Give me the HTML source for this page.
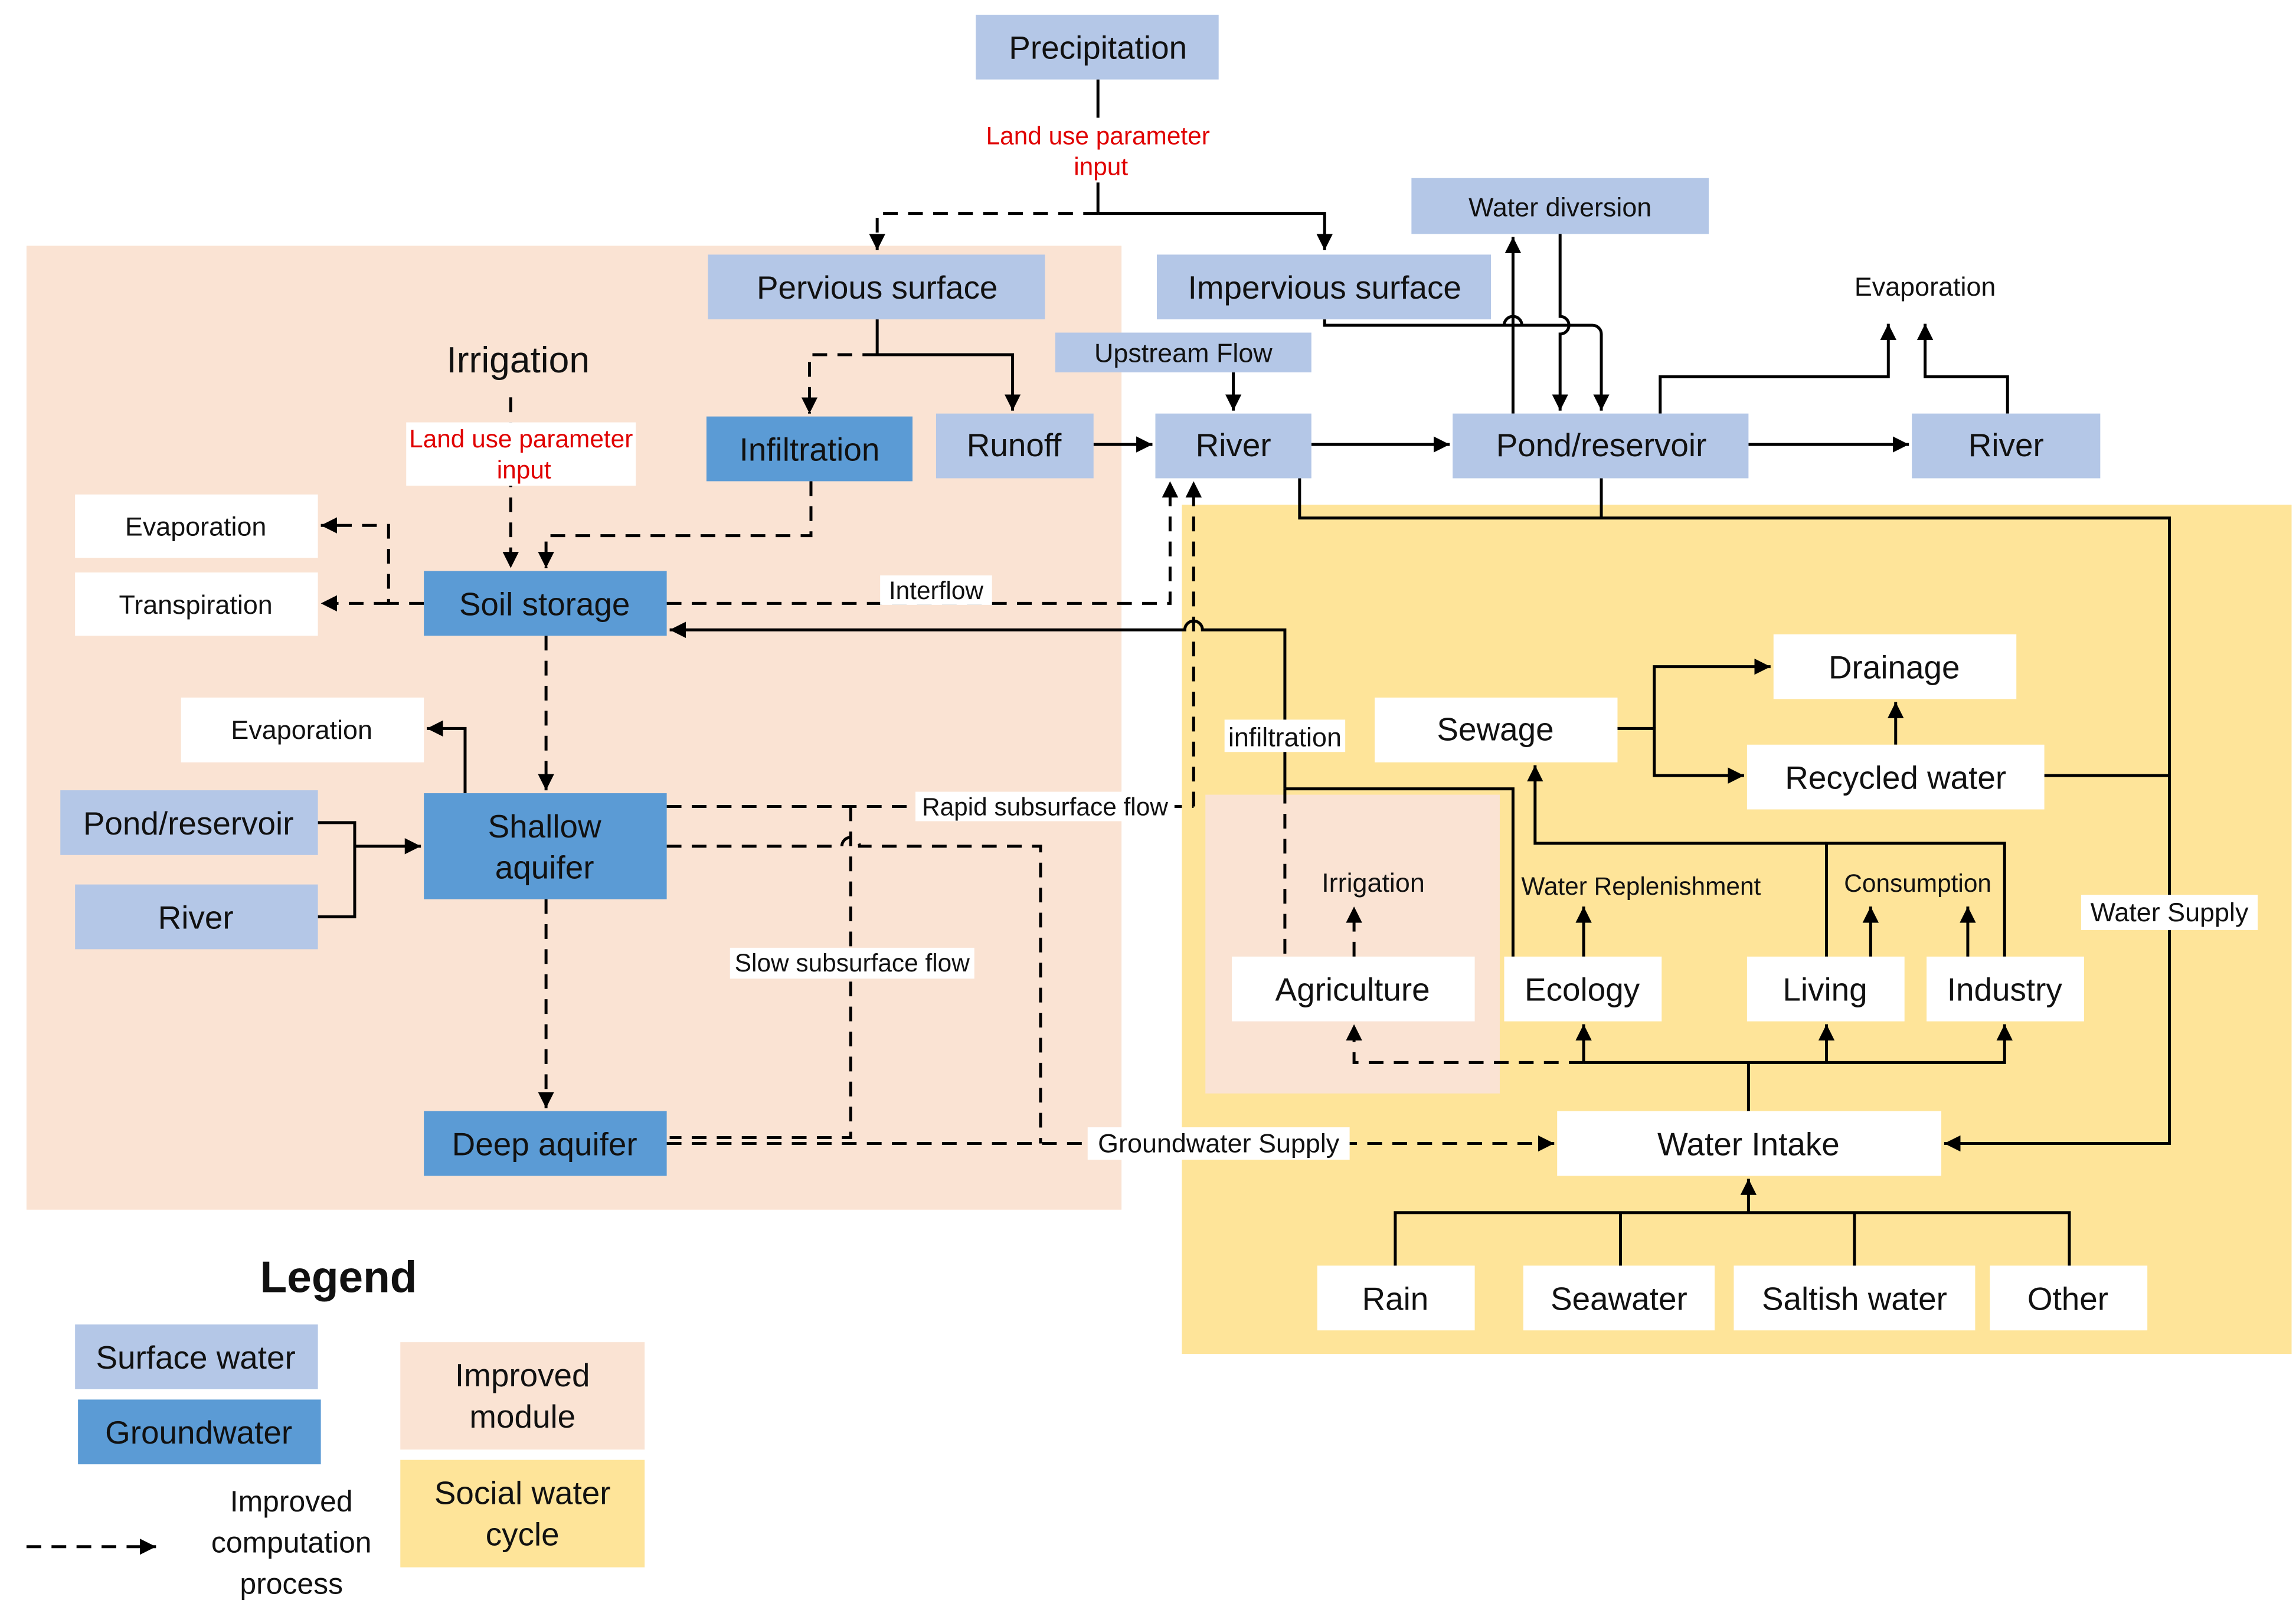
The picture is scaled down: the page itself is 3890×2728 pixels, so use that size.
<!DOCTYPE html>
<html><head><meta charset="utf-8"><style>
html,body{margin:0;padding:0;background:#fff}
svg{display:block}
text{font-family:"Liberation Sans",Arial,sans-serif}
</style></head><body>
<svg width="3890" height="2728" viewBox="0 0 1560 1094" xmlns="http://www.w3.org/2000/svg">
<defs>
<marker id="a" viewBox="0 0 10 10" refX="10" refY="5" markerWidth="5.5" markerHeight="5.5" orient="auto"><path d="M0,0L10,5L0,10z" fill="#000"/></marker>
</defs>
<rect width="1560" height="1094" fill="#fff"/>
<rect x="18" y="167" width="744" height="655" fill="#fae3d3"/>
<rect x="803" y="343" width="754" height="577" fill="#fee499"/>
<rect x="819" y="540" width="200" height="203" fill="#fae3d3"/>

<g stroke="#000" stroke-width="2" fill="none">
<path d="M746,54V80"/>
<path d="M746,124V145"/>
<path d="M746,145H596V170" stroke-dasharray="10,7" marker-end="url(#a)"/>
<path d="M746,145H900V170" marker-end="url(#a)"/>
<path d="M596,217V241H688V279" marker-end="url(#a)"/>
<path d="M596,241H550V281" stroke-dasharray="10,7" marker-end="url(#a)"/>
<path d="M900,217V221H1082a6,6 0 0 1 6,6V279" marker-end="url(#a)"/>
<path d="M1028,281V161" marker-end="url(#a)"/>
<path d="M1060,159V215a6,6 0 0 1 0,12V279" marker-end="url(#a)"/>
<path d="M1022,221a6,6 0 0 1 12,0"/>
<path d="M838,253V279" marker-end="url(#a)"/>
<path d="M743,302H783" marker-end="url(#a)"/>
<path d="M891,302H985" marker-end="url(#a)"/>
<path d="M1188,302H1297" marker-end="url(#a)"/>
<path d="M1128,281V256H1283V220" marker-end="url(#a)"/>
<path d="M1364,281V256H1308V220" marker-end="url(#a)"/>
<path d="M883,325V352H1474V777H1321" marker-end="url(#a)"/>
<path d="M1088,325V352"/>
<path d="M1389,527H1474"/>
<path d="M347,270V386" stroke-dasharray="10,7" marker-end="url(#a)"/>
<path d="M551,327V364H371V386" stroke-dasharray="10,7" marker-end="url(#a)"/>
<path d="M288,410H264V357H218" stroke-dasharray="10,7" marker-end="url(#a)"/>
<path d="M264,410H218" stroke-dasharray="10,7" marker-end="url(#a)"/>
<path d="M453,410H795V327" stroke-dasharray="10,7" marker-end="url(#a)"/>
<path d="M873,536V428H817a6,6 0 0 0 -12,0H455" marker-end="url(#a)"/>
<path d="M873,536H1028V650"/>
<path d="M873,536V650" stroke-dasharray="10,7"/>
<path d="M811,548V327" stroke-dasharray="10,7" marker-end="url(#a)"/>
<path d="M453,548H811" stroke-dasharray="10,7"/>
<path d="M371,432V537" stroke-dasharray="10,7" marker-end="url(#a)"/>
<path d="M371,611V753" stroke-dasharray="10,7" marker-end="url(#a)"/>
<path d="M316,539V495H290" marker-end="url(#a)"/>
<path d="M216,559H241V623H216"/>
<path d="M241,575H286" marker-end="url(#a)"/>
<path d="M453,575H572a6,6 0 0 1 12,0H707V777" stroke-dasharray="10,7"/>
<path d="M578,548V773H455" stroke-dasharray="10,7"/>
<path d="M453,777H1056" stroke-dasharray="10,7" marker-end="url(#a)"/>
<path d="M1099,495H1124V527H1185" marker-end="url(#a)"/>
<path d="M1124,495V453H1203" marker-end="url(#a)"/>
<path d="M1288,506V477" marker-end="url(#a)"/>
<path d="M1241,650V573H1362V650"/>
<path d="M1241,573H1043V520" marker-end="url(#a)"/>
<path d="M1271,650V616" marker-end="url(#a)"/>
<path d="M1337,650V616" marker-end="url(#a)"/>
<path d="M1076,650V616" marker-end="url(#a)"/>
<path d="M920,650V616" stroke-dasharray="10,7" marker-end="url(#a)"/>
<path d="M1188,755V722"/>
<path d="M1076,722H920V696" stroke-dasharray="10,7" marker-end="url(#a)"/>
<path d="M1076,722H1362V696" marker-end="url(#a)"/>
<path d="M1076,722V696" marker-end="url(#a)"/>
<path d="M1241,722V696" marker-end="url(#a)"/>
<path d="M948,860V824H1406V860M1101,824V860M1260,824V860"/>
<path d="M1188,824V801" marker-end="url(#a)"/>
<path d="M18,1051H106" stroke-dasharray="10,7" marker-end="url(#a)"/>
</g>

<g fill="#b4c7e7">
<rect x="663" y="10" width="165" height="44"/>
<rect x="481" y="173" width="229" height="44"/>
<rect x="786" y="173" width="227" height="44"/>
<rect x="959" y="121" width="202" height="38"/>
<rect x="717" y="226" width="174" height="27"/>
<rect x="636" y="281" width="107" height="44"/>
<rect x="785" y="281" width="106" height="44"/>
<rect x="987" y="281" width="201" height="44"/>
<rect x="1299" y="281" width="128" height="44"/>
<rect x="41" y="537" width="175" height="44"/>
<rect x="51" y="601" width="165" height="44"/>
<rect x="51" y="900" width="165" height="44"/>
</g>
<g fill="#5b9bd5">
<rect x="480" y="283" width="140" height="44"/>
<rect x="288" y="388" width="165" height="44"/>
<rect x="288" y="539" width="165" height="72"/>
<rect x="288" y="755" width="165" height="44"/>
<rect x="53" y="951" width="165" height="44"/>
</g>
<g fill="#fff">
<rect x="276" y="287" width="156" height="43"/>
<rect x="51" y="336" width="165" height="43"/>
<rect x="51" y="389" width="165" height="43"/>
<rect x="123" y="474" width="165" height="44"/>
<rect x="1205" y="431" width="165" height="44"/>
<rect x="934" y="474" width="165" height="44"/>
<rect x="1187" y="506" width="202" height="44"/>
<rect x="837" y="650" width="165" height="44"/>
<rect x="1022" y="650" width="107" height="44"/>
<rect x="1187" y="650" width="107" height="44"/>
<rect x="1309" y="650" width="107" height="44"/>
<rect x="1058" y="755" width="261" height="44"/>
<rect x="895" y="860" width="107" height="44"/>
<rect x="1035" y="860" width="130" height="44"/>
<rect x="1178" y="860" width="164" height="44"/>
<rect x="1352" y="860" width="107" height="44"/>
<rect x="598" y="391" width="76" height="20"/>
<rect x="832" y="489" width="82" height="22"/>
<rect x="622" y="538" width="176" height="20"/>
<rect x="496" y="644" width="166" height="21"/>
<rect x="739" y="766" width="178" height="22"/>
<rect x="1414" y="608" width="120" height="24"/>
</g>
<rect x="272" y="912" width="166" height="73" fill="#fae3d3"/>
<rect x="272" y="992" width="166" height="73" fill="#fee499"/>

<g text-anchor="middle" font-size="22" style="fill:#111">
<text x="746" y="40">Precipitation</text>
<text x="596" y="203">Pervious surface</text>
<text x="900" y="203">Impervious surface</text>
<text x="1060" y="147" font-size="18">Water diversion</text>
<text x="804" y="246" font-size="18">Upstream Flow</text>
<text x="1308" y="201" font-size="18">Evaporation</text>
<text x="352" y="253" font-size="25">Irrigation</text>
<text x="550" y="313">Infiltration</text>
<text x="689" y="310">Runoff</text>
<text x="838" y="310">River</text>
<text x="1088" y="310">Pond/reservoir</text>
<text x="1363" y="310">River</text>
<text x="133" y="364" font-size="18">Evaporation</text>
<text x="133" y="417" font-size="18">Transpiration</text>
<text x="370" y="418">Soil storage</text>
<text x="205" y="502" font-size="18">Evaporation</text>
<text x="128" y="567">Pond/reservoir</text>
<text x="133" y="631">River</text>
<text x="370" y="569">Shallow</text>
<text x="370" y="597">aquifer</text>
<text x="370" y="785">Deep aquifer</text>
<text x="1287" y="461">Drainage</text>
<text x="1016" y="503">Sewage</text>
<text x="1288" y="536">Recycled water</text>
<text x="919" y="680">Agriculture</text>
<text x="1075" y="680">Ecology</text>
<text x="1240" y="680">Living</text>
<text x="1362" y="680">Industry</text>
<text x="1188" y="785">Water Intake</text>
<text x="948" y="890">Rain</text>
<text x="1100" y="890">Seawater</text>
<text x="1260" y="890">Saltish water</text>
<text x="1405" y="890">Other</text>
<text x="230" y="878" font-size="30" font-weight="bold">Legend</text>
<text x="133" y="930">Surface water</text>
<text x="135" y="981">Groundwater</text>
<text x="355" y="942">Improved</text>
<text x="355" y="970">module</text>
<text x="355" y="1022">Social water</text>
<text x="355" y="1050">cycle</text>
<text x="198" y="1027" font-size="20">Improved</text>
<text x="198" y="1055" font-size="20">computation</text>
<text x="198" y="1083" font-size="20">process</text>
</g>
<g text-anchor="middle" font-size="17" style="fill:#111">
<text x="746" y="98" style="fill:#e00000">Land use parameter</text>
<text x="748" y="119" style="fill:#e00000">input</text>
<text x="354" y="304" style="fill:#e00000">Land use parameter</text>
<text x="356" y="325" style="fill:#e00000">input</text>
<text x="636" y="407">Interflow</text>
<text x="873" y="507" font-size="18">infiltration</text>
<text x="710" y="554">Rapid subsurface flow</text>
<text x="579" y="660">Slow subsurface flow</text>
<text x="828" y="783" font-size="18">Groundwater Supply</text>
<text x="1474" y="626" font-size="18">Water Supply</text>
<text x="933" y="606" font-size="18">Irrigation</text>
<text x="1115" y="608">Water Replenishment</text>
<text x="1303" y="606">Consumption</text>
</g>
</svg>
</body></html>
